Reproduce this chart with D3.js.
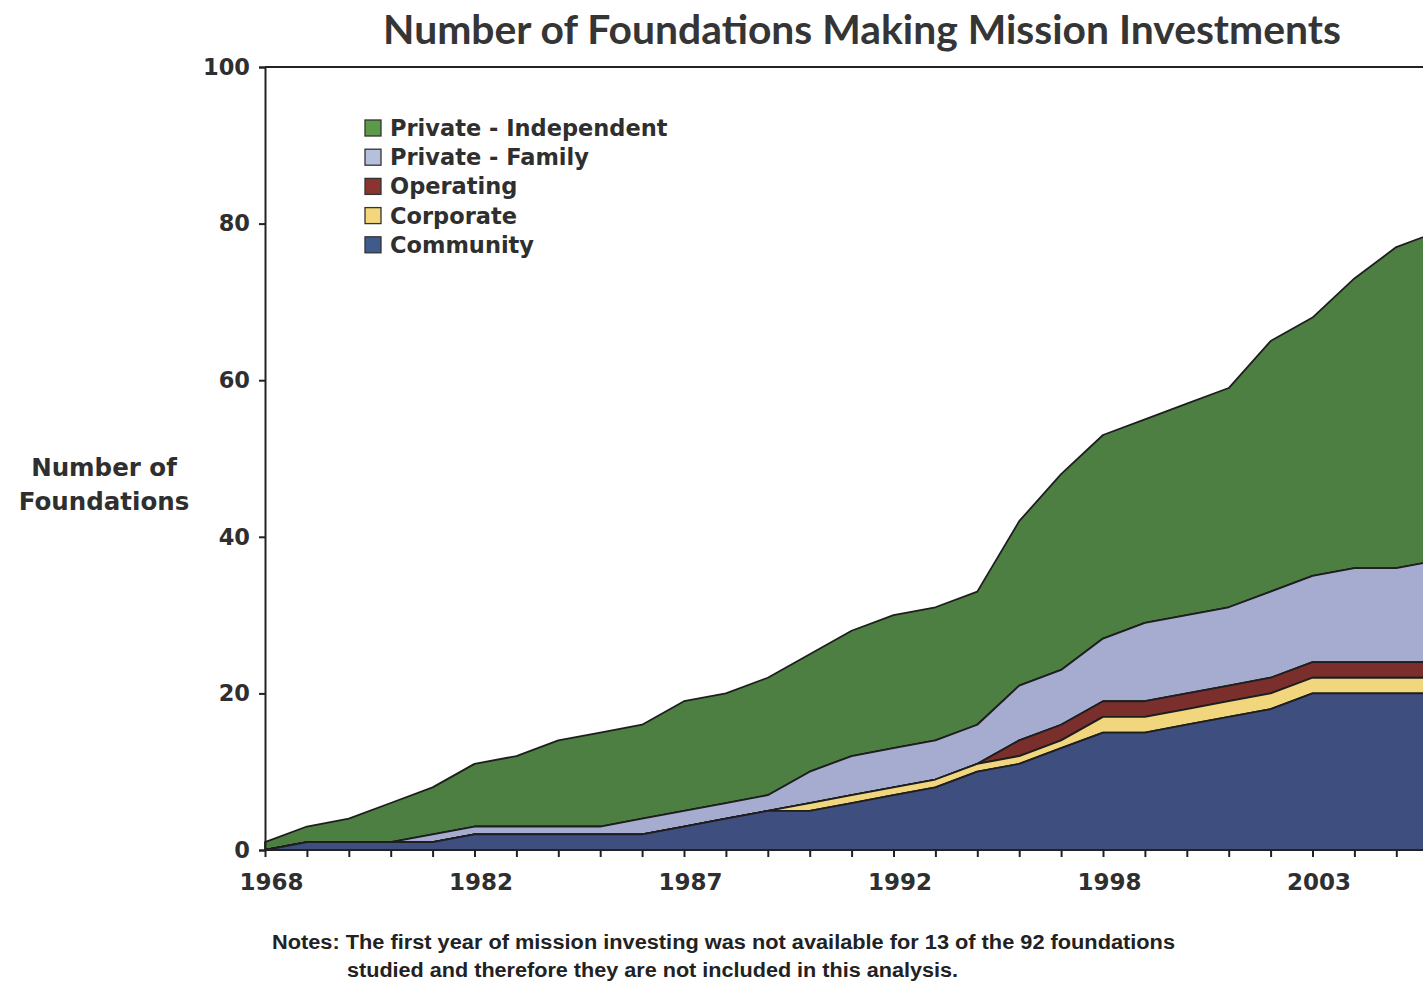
<!DOCTYPE html>
<html>
<head>
<meta charset="utf-8">
<script src="https://cdn.jsdelivr.net/npm/d3@7/dist/d3.min.js"></script>
<style>
	body { margin: 0; background: #fff; }
	svg { display: block; }
</style>
</head>
<body>
<div id="area_chart"></div>
<script>
// categories (only every 5th one is labelled on the axis)
var years = ["1968","1971","1974","1977","1980","1982","1983","1984","1985","1986",
             "1987","1988","1989","1990","1991","1992","1993","1994","1995","1997",
             "1998","1999","2000","2001","2002","2003","2004","2005","2006"];

// foundations per type
var community   = [0,1,1,1,1,2,2,2,2,2,3,4,5,5,6,7,8,10,11,13,15,15,16,17,18,20,20,20,20];
var corporate   = [0,0,0,0,0,0,0,0,0,0,0,0,0,1,1,1,1,1,1,1,2,2,2,2,2,2,2,2,2];
var operating   = [0,0,0,0,0,0,0,0,0,0,0,0,0,0,0,0,0,0,2,2,2,2,2,2,2,2,2,2,2];
var privFamily  = [0,0,0,0,1,1,1,1,1,2,2,2,2,4,5,5,5,5,7,7,8,10,10,10,11,11,12,12,13];
var privIndep   = [1,2,3,5,6,8,9,11,12,12,14,14,15,15,16,17,17,17,21,25,26,26,27,28,32,33,37,41,42];

var seriesKeys   = ["Community","Corporate","Operating","Private - Family","Private - Independent"];
var seriesColors = ["#3e4e7e","#f1d67e","#7a2f2c","#a5acd0","#4c7f41"];
var legendColors = ["#3f5a8c","#f3d77a","#8a3430","#b4c0dc","#5a9a48"];
var yTicks = [0,20,40,60,80,100];

var chartTitle = "Number of Foundations Making Mission Investments";
var yTitle = ["Number of","Foundations"];
var notes = ["Notes: The first year of mission investing was not available for 13 of the 92 foundations",
             "studied and therefore they are not included in this analysis."];

var W = 1423, H = 981;
var svg = d3.select("#area_chart").append("svg")
	.attr("width", W)
	.attr("height", H);

var plot = {left: 265, top: 67, bottom: 850, step: 41.9};

// build rows for the stack
var table = years.map(function(y, i) {
	return {
		year: y,
		"Community": community[i],
		"Corporate": corporate[i],
		"Operating": operating[i],
		"Private - Family": privFamily[i],
		"Private - Independent": privIndep[i]
	};
});

var stacked = d3.stack().keys(seriesKeys)(table);

var x = d3.scalePoint()
	.domain(years)
	.range([plot.left, plot.left + plot.step * (years.length - 1)]);

var y = d3.scaleLinear()
	.domain([0, 100])
	.range([plot.bottom, plot.top]);

var area = d3.area()
	.x(function(d) { return x(d.data.year); })
	.y0(function(d) { return y(d[0]); })
	.y1(function(d) { return y(d[1]); });

var labelFont = "'DejaVu Sans', sans-serif";
var ink = "#2f2f2f";

// areas, drawn top series first so the lower outlines stay on top
svg.append("g")
	.selectAll("path")
	.data(stacked.slice().reverse())
	.enter().append("path")
	.attr("d", area)
	.attr("fill", function(d) { return seriesColors[seriesKeys.indexOf(d.key)]; })
	.attr("stroke", "#1e1e1e")
	.attr("stroke-width", 1.8)
	.attr("stroke-linejoin", "round");

// top border of the plot area
svg.append("line")
	.attr("x1", plot.left).attr("x2", W)
	.attr("y1", plot.top).attr("y2", plot.top)
	.attr("stroke", "#222").attr("stroke-width", 2);

// y axis
var yAxis = svg.append("g")
	.attr("transform", "translate(" + plot.left + ",0)")
	.call(d3.axisLeft(y).tickValues(yTicks).tickSize(6).tickPadding(9).tickFormat(d3.format("d")));
yAxis.select(".domain").attr("stroke", "#222").attr("stroke-width", 2);
yAxis.selectAll(".tick line").attr("stroke", "#222").attr("stroke-width", 2);
yAxis.selectAll(".tick text")
	.attr("font-family", labelFont)
	.attr("font-weight", "bold")
	.attr("font-size", 22.5)
	.attr("fill", ink);

// x axis
var xAxis = svg.append("g")
	.attr("transform", "translate(0," + plot.bottom + ")")
	.call(d3.axisBottom(x).tickSize(7).tickPadding(17)
		.tickFormat(function(d, i) { return i % 5 === 0 ? d : ""; }));
xAxis.select(".domain").attr("stroke", "#222").attr("stroke-width", 2)
	.attr("d", "M" + plot.left + ",0H" + (W + 50));
xAxis.selectAll(".tick line").attr("stroke", "#222").attr("stroke-width", 2);
xAxis.selectAll(".tick text")
	.attr("font-family", labelFont)
	.attr("font-weight", "bold")
	.attr("font-size", 23)
	.attr("dx", 6)
	.attr("fill", ink);

// y axis title
svg.append("text")
	.attr("x", 104)
	.attr("y", 476)
	.attr("text-anchor", "middle")
	.attr("font-family", labelFont)
	.attr("font-weight", "bold")
	.attr("font-size", 24.5)
	.attr("fill", ink)
	.selectAll("tspan")
	.data(yTitle)
	.enter().append("tspan")
	.attr("x", 104)
	.attr("dy", function(d, i) { return i === 0 ? 0 : 34; })
	.text(function(d) { return d; });

// chart title, squeezed to the width it has in the picture
var title = svg.append("text")
	.attr("x", 862)
	.attr("y", 44)
	.attr("text-anchor", "middle")
	.attr("font-family", "Lato, 'Open Sans', sans-serif")
	.attr("font-weight", "bold")
	.attr("font-size", 40)
	.attr("fill", "#353535")
	.text(chartTitle);
var tw = title.node().getComputedTextLength();
title.attr("font-size", 40 * 958 / tw);

// legend
var legendOrder = seriesKeys.slice().reverse();
var legend = svg.append("g")
	.selectAll("g")
	.data(legendOrder)
	.enter().append("g")
	.attr("transform", function(d, i) { return "translate(365," + (128 + i * 29.2) + ")"; });

legend.append("rect")
	.attr("x", 0).attr("y", -8)
	.attr("width", 16).attr("height", 16)
	.attr("fill", function(d) { return legendColors[seriesKeys.indexOf(d)]; })
	.attr("stroke", "#333").attr("stroke-width", 1.3);

legend.append("text")
	.attr("x", 25)
	.attr("y", 8)
	.attr("font-family", labelFont)
	.attr("font-weight", "bold")
	.attr("font-size", 22.5)
	.attr("fill", ink)
	.text(function(d) { return d; });

// notes under the chart, fitted to the widths in the picture
var noteLines = [{x: 272, y: 949, w: 903}, {x: 347, y: 977, w: 611}];
svg.append("g")
	.selectAll("text")
	.data(notes)
	.enter().append("text")
	.attr("x", function(d, i) { return noteLines[i].x; })
	.attr("y", function(d, i) { return noteLines[i].y; })
	.attr("textLength", function(d, i) { return noteLines[i].w; })
	.attr("lengthAdjust", "spacingAndGlyphs")
	.attr("font-family", "'Liberation Sans', Arial, sans-serif")
	.attr("font-weight", "bold")
	.attr("font-size", 20)
	.attr("fill", "#222")
	.text(function(d) { return d; });
</script>
</body>
</html>
